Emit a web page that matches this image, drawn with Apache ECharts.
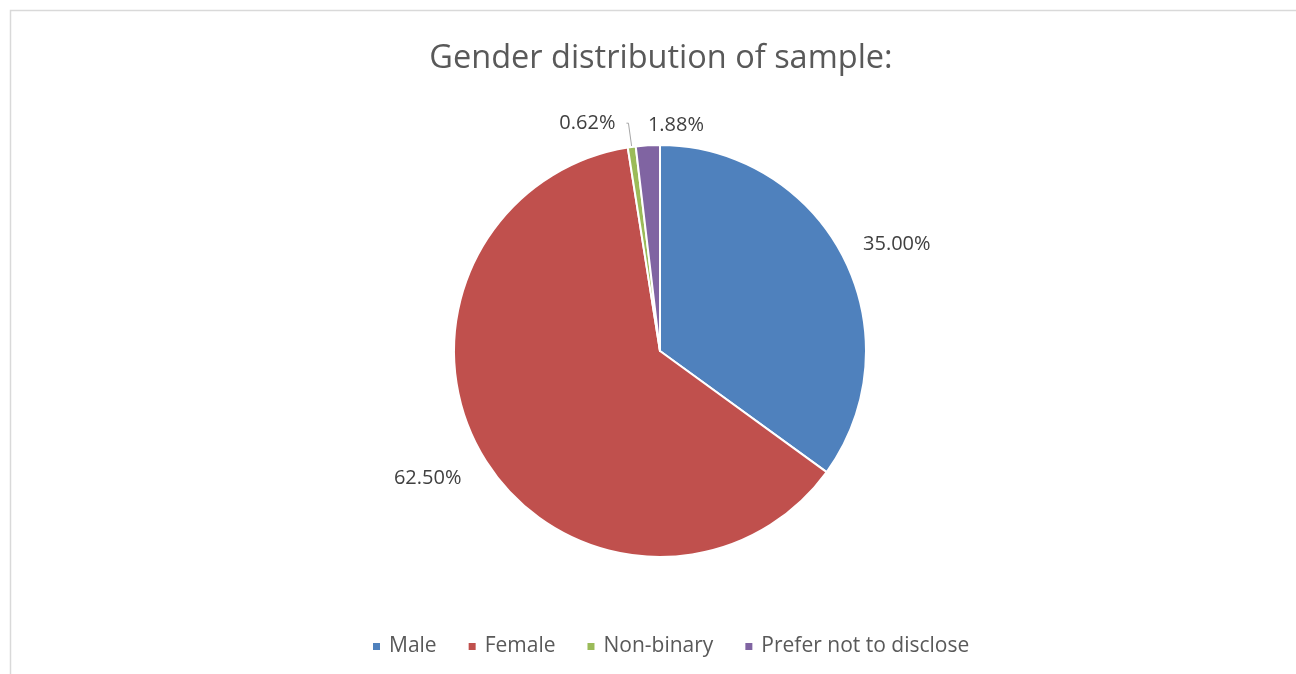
<!DOCTYPE html>
<html>
<head>
<meta charset="utf-8">
<script src="https://cdn.jsdelivr.net/npm/echarts@6/dist/echarts.min.js"></script>
<style>
  html, body { margin: 0; padding: 0; background: #ffffff; }
  #chart { width: 1296px; height: 674px; }
</style>
</head>
<body>
<div id="chart"></div>
<script>
// Sample composition by gender (percent of respondents)
const categories = ['Male', 'Female', 'Non-binary', 'Prefer not to disclose'];
const shares = [35.00, 62.50, 0.62, 1.88];
const colors = ['#4f81bd', '#c0504d', '#9bbb59', '#8064a2'];

const FONT = '"Open Sans", "Noto Sans", sans-serif';

const chart = echarts.init(document.getElementById('chart'), null, { renderer: 'canvas' });

const pieData = categories.map((name, i) => ({
  name,
  value: shares[i],
  itemStyle: { color: colors[i] },
  labelLine: i === 2 ? { show: true, length: 24, length2: 2 } : { show: false }
}));

// small nudges for the data labels, per slice
const labelShift = [
  { dx: -2, dy: -7 },
  { dx: -2, dy: 12 },
  { dx: -6, dy: 0 },
  { dx: 66, dy: -6 }
];

chart.setOption({
  backgroundColor: '#ffffff',
  animation: false,
  graphic: [{
    type: 'rect',
    shape: { x: 10.5, y: 10.5, width: 1320, height: 700 },
    style: { fill: 'none', stroke: '#d9d9d9', lineWidth: 1.5 },
    silent: true
  }],
  title: {
    text: 'Gender distribution of sample:',
    left: 656,
    textAlign: 'center',
    top: 37,
    textStyle: { fontFamily: FONT, fontSize: 32.5, fontWeight: 'normal', color: '#595959' }
  },
  legend: {
    data: categories,
    top: 631,
    left: 366,
    icon: 'rect',
    itemWidth: 9,
    itemHeight: 9,
    itemGap: 30,
    textStyle: { fontFamily: FONT, fontSize: 21, color: '#595959', padding: [0, 0, 0, 3] }
  },
  series: [{
    type: 'pie',
    center: [660, 351],
    radius: 206,
    startAngle: 90,
    clockwise: true,
    avoidLabelOverlap: false,
    data: pieData,
    itemStyle: { borderColor: '#ffffff', borderWidth: 2 },
    label: {
      show: true,
      position: 'outside',
      formatter: (p) => p.value.toFixed(2) + '%',
      fontFamily: FONT,
      fontSize: 20,
      color: '#404040'
    },
    labelLine: {
      length: 14,
      length2: 4,
      lineStyle: { color: '#a6a6a6', width: 1 }
    },
    labelLayout: function (p) {
      return labelShift[p.dataIndex];
    }
  }]
});
</script>
</body>
</html>
